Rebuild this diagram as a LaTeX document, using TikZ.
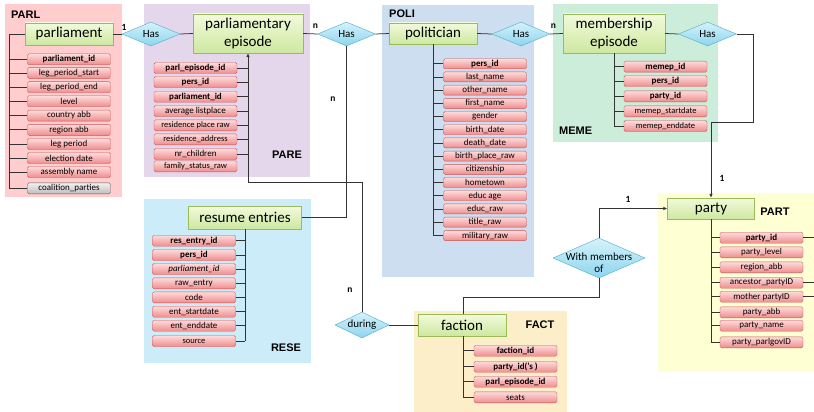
\documentclass[tikz,border=0pt]{standalone}
\usepackage{fontspec}
\setmainfont{Carlito}
\newfontfamily\lblfont{Liberation Sans}
\usetikzlibrary{shapes.geometric,arrows.meta}
\definecolor{entTop}{HTML}{F2FADC}
\definecolor{entBot}{HTML}{CDE8A0}
\definecolor{entLine}{HTML}{9BBB59}
\definecolor{attTop}{HTML}{FDDCDC}
\definecolor{attBot}{HTML}{F08C8C}
\definecolor{attLine}{HTML}{C85454}
\definecolor{relTop}{HTML}{D6F2FB}
\definecolor{relBot}{HTML}{8CD5EE}
\definecolor{relLine}{HTML}{4BACC6}
\definecolor{grTop}{HTML}{F2F2F2}
\definecolor{grBot}{HTML}{BDBDBD}
\definecolor{conn}{HTML}{333333}
\definecolor{bgPARL}{HTML}{FFCDCD}
\definecolor{bgPARE}{HTML}{E4D7EB}
\definecolor{bgPOLI}{HTML}{CCDEF0}
\definecolor{bgMEME}{HTML}{CCEDDA}
\definecolor{bgRESE}{HTML}{CCECF9}
\definecolor{bgFACT}{HTML}{FCEEC8}
\definecolor{bgPART}{HTML}{FFFFD4}
\begin{document}
\begin{tikzpicture}[x=1pt,y=-1pt,
  entity/.style={draw=entLine, top color=entTop, bottom color=entBot, inner sep=0pt,
    align=center, font=\fontsize{15}{18}\selectfont},
  attr/.style={draw=attLine, rounded corners=1.5pt, top color=attTop, bottom color=attBot,
    minimum width=83pt, minimum height=11pt, inner sep=0pt, font=\fontsize{9}{10}\selectfont},
  keyattr/.style={attr, font=\fontsize{9}{10}\selectfont\bfseries},
  grayattr/.style={attr, draw=black!65, top color=grTop, bottom color=grBot},
  rel/.style={diamond, aspect=1, draw=relLine, top color=relTop, bottom color=relBot,
    inner sep=0pt, minimum width=58pt, minimum height=24pt},
  relfont/.style={font=\fontsize{11}{12}\selectfont, inner sep=0pt},
  grp/.style={font=\lblfont\fontsize{11}{13}\selectfont\bfseries, inner sep=0pt},
  card/.style={font=\fontsize{9.5}{10}\selectfont\bfseries, inner sep=0pt},
  link/.style={draw=conn, line width=0.75pt},
  arr/.style={link, -{Latex[length=4pt,width=3.5pt]}}
]
\useasboundingbox (0,0) rectangle (814,412);
% background areas
\fill[bgPARL] (5,4) rectangle (122,197);
\fill[bgPARE] (144,4) rectangle (310,177);
\fill[bgPOLI] (382,5) rectangle (534,277);
\fill[bgMEME] (553,4) rectangle (718,142);
\fill[bgRESE] (144,199) rectangle (311,363);
\fill[bgFACT] (414,311) rectangle (567,412);
\fill[bgPART] (658,193) rectangle (814,372);
% group labels
\node[grp, anchor=west] (gPARL) at (11,15) {PARL};
\node[grp] (gPARE) at (287,155) {PARE};
\node[grp, anchor=west] (gPOLI) at (389,14) {POLI};
\node[grp, anchor=west] (gMEME) at (559,131) {MEME};
\node[grp] (gRESE) at (286,348) {RESE};
\node[grp] (gFACT) at (540,325) {FACT};
\node[grp] (gPART) at (775,212) {PART};
% entities
\node[entity, minimum width=88pt, minimum height=22pt] (parliament) at (69,34) {parliament};
\node[entity, minimum width=110pt, minimum height=39pt] (parlep) at (248,33.5) {parliamentary\\episode};
\node[entity, minimum width=88pt, minimum height=21pt] (politician) at (433,33.5) {politician};
\node[entity, minimum width=102pt, minimum height=39pt] (memep) at (614,33.5) {membership\\episode};
\node[entity, minimum width=113pt, minimum height=23pt] (resume) at (245,217.5) {resume entries};
\node[entity, minimum width=88pt, minimum height=22pt] (faction) at (462,325) {faction};
\node[entity, minimum width=87pt, minimum height=21pt] (party) at (711,208.5) {party};
% relationships
\node[rel, label={[relfont]center:Has}] (has1) at (151,34) {};
\node[rel, label={[relfont]center:Has}] (has2) at (346.5,34) {};
\node[rel, label={[relfont]center:Has}] (has3) at (521,34) {};
\node[rel, label={[relfont]center:Has}] (has4) at (707.5,34) {};
\node[rel, minimum width=54pt, minimum height=26pt, label={[relfont]center:during}] (during) at (362,325) {};
\node[rel, minimum width=92pt, minimum height=40pt, label={[relfont, align=center, yshift=-5pt]center:With members\\of}] (withmem) at (599,258) {};
% PARL attributes
\node[keyattr] (p1) at (69,59.3) {parliament\_id};
\node[attr] (p2) at (69,72.9) {leg\_period\_start};
\node[attr] (p3) at (69,87.2) {leg\_period\_end};
\node[attr] (p4) at (69,101.2) {level};
\node[attr] (p5) at (69,115.6) {country abb};
\node[attr] (p6) at (69,129.8) {region abb};
\node[attr] (p7) at (69,144) {leg period};
\node[attr] (p8) at (69,158) {election date};
\node[attr] (p9) at (69,172) {assembly name};
\node[grayattr] (p10) at (69,188.3) {coalition\_parties};
% PARE attributes
\node[keyattr] (e1) at (195.5,68) {parl\_episode\_id};
\node[keyattr] (e2) at (195.5,82) {pers\_id};
\node[keyattr] (e3) at (195.5,96.7) {parliament\_id};
\node[attr] (e4) at (195.5,111) {average listplace};
\node[attr, font=\fontsize{8.5}{10}\selectfont] (e5) at (195.5,125.3) {residence place raw};
\node[attr, font=\fontsize{8.5}{10}\selectfont] (e6) at (195.5,139.3) {residence\_address};
\node[attr] (e7) at (195.5,154) {nr\_children};
\node[attr, font=\fontsize{8.5}{10}\selectfont] (e8) at (195.5,166.3) {family\_status\_raw};
% POLI attributes
\node[keyattr, minimum height=10pt] (o1) at (485,63.8) {pers\_id};
\node[attr, minimum height=10pt] (o2) at (485,76.9) {last\_name};
\node[attr, minimum height=10pt] (o3) at (485,90.1) {other\_name};
\node[attr, minimum height=10pt] (o4) at (485,103.3) {first\_name};
\node[attr, minimum height=10pt] (o5) at (485,116.5) {gender};
\node[attr, minimum height=10pt] (o6) at (485,129.7) {birth\_date};
\node[attr, minimum height=10pt] (o7) at (485,142.9) {death\_date};
\node[attr, minimum height=10pt] (o8) at (485,156.1) {birth\_place\_raw};
\node[attr, minimum height=10pt] (o9) at (485,169.3) {citizenship};
\node[attr, minimum height=10pt] (o10) at (485,182.5) {hometown};
\node[attr, minimum height=10pt] (o11) at (485,195.7) {educ age};
\node[attr, minimum height=10pt] (o12) at (485,208.9) {educ\_raw};
\node[attr, minimum height=10pt] (o13) at (485,222.1) {title\_raw};
\node[attr, minimum height=10pt] (o14) at (485,235.6) {military\_raw};
% MEME attributes
\node[keyattr] (m1) at (665.5,66.7) {memep\_id};
\node[keyattr] (m2) at (665.5,81) {pers\_id};
\node[keyattr] (m3) at (665.5,96.3) {party\_id};
\node[attr, font=\fontsize{8.5}{10}\selectfont] (m4) at (665.5,111.3) {memep\_startdate};
\node[attr, font=\fontsize{8.5}{10}\selectfont] (m5) at (665.5,126) {memep\_enddate};
% RESE attributes
\node[keyattr] (r1) at (194,240.7) {res\_entry\_id};
\node[keyattr] (r2) at (194,255) {pers\_id};
\node[attr, font=\fontsize{9}{10}\selectfont\itshape] (r3) at (194,269) {parliament\_id};
\node[attr] (r4) at (194,283.3) {raw\_entry};
\node[attr] (r5) at (194,297.3) {code};
\node[attr] (r6) at (194,311.7) {ent\_startdate};
\node[attr] (r7) at (194,325.7) {ent\_enddate};
\node[attr, font=\fontsize{8.5}{10}\selectfont] (r8) at (194,341) {source};
% FACT attributes
\node[keyattr] (f1) at (515.5,350.7) {faction\_id};
\node[keyattr] (f2) at (515.5,366.7) {party\_id('s )};
\node[keyattr] (f3) at (515.5,381.7) {parl\_episode\_id};
\node[attr] (f4) at (515.5,397.3) {seats};
% PART attributes
\node[keyattr] (t1) at (761.5,237.7) {party\_id};
\node[attr] (t2) at (761.5,252.3) {party\_level};
\node[attr] (t3) at (761.5,267.3) {region\_abb};
\node[attr] (t4) at (761.5,282.7) {ancestor\_partyID};
\node[attr] (t5) at (761.5,296.7) {mother partyID};
\node[attr] (t6) at (761.5,312.3) {party\_abb};
\node[attr] (t7) at (761.5,325.7) {party\_name};
\node[attr] (t8) at (761.5,342.3) {party\_parlgovID};
% bus coordinates
\coordinate (pbus) at (9,188.3);
\coordinate (c1) at (753,122);
\coordinate (c3) at (362,182);
\coordinate (c4) at (463,297);
\coordinate (rEdge) at (814,0);
% attribute buses
\draw[link] (parliament.west) -| (pbus);
\foreach \a in {p1,p2,p3,p4,p5,p6,p7,p8,p9,p10} \draw[link] (\a.west) -- (\a.west -| pbus);
\foreach \a in {e1,e2,e3,e4,e5,e6,e7} \draw[link] (\a.east) -- (\a.east -| parlep.south);
\draw[link] (politician.south) -- (politician.south |- o14.west);
\foreach \a in {o1,o2,o3,o4,o5,o6,o7,o8,o9,o10,o11,o12,o13,o14} \draw[link] (\a.west) -- (\a.west -| politician.south);
\draw[link] (memep.south) -- (memep.south |- m5.west);
\foreach \a in {m1,m2,m3,m4,m5} \draw[link] (\a.west) -- (\a.west -| memep.south);
\draw[link] (resume.south) -- (resume.south |- r8.east);
\foreach \a in {r1,r2,r3,r4,r5,r6,r7,r8} \draw[link] (\a.east) -- (\a.east -| resume.south);
\draw[link] (faction.south -| c4) -- (c4 |- f4.west);
\foreach \a in {f1,f2,f3,f4} \draw[link] (\a.west) -- (\a.west -| c4);
\draw[link] (party.south) -- (party.south |- t8.west);
\foreach \a in {t1,t2,t3,t4,t5,t6,t7,t8} \draw[link] (\a.west) -- (\a.west -| party.south);
\foreach \a in {t1,t4,t5} \draw[link] (\a.east) -- (\a.east -| rEdge);
% relationship connectors
\draw[link] (parliament.east) -- (has1.west);
\draw[link] (has1.east) -- (parlep.west);
\draw[link] (parlep.east) -- (has2.west);
\draw[link] (has2.east) -- (politician.west);
\draw[link] (politician.east) -- (has3.west);
\draw[link] (has3.east) -- (memep.west);
\draw[link] (memep.east) -- (has4.west);
\draw[arr] (has4.east) -| (c1) -| (party.north);
\draw[link] (has2.south) |- (resume.east);
\draw[arr] (during.north) -- (c3) -| (parlep.south);
\draw[link] (during.east) -- (faction.west);
\draw[link] (faction.north -| c4) -- (c4) -| (withmem.south);
\draw[arr] (withmem.north) |- (party.west);
% cardinalities
\node[card] (k1) at (124,27) {1};
\node[card] (k2) at (315.5,26.5) {n};
\node[card] (k3) at (553.5,26.5) {n};
\node[card] (k4) at (333,99) {n};
\node[card] (k5) at (350,290) {n};
\node[card] (k6) at (722,178) {1};
\node[card] (k7) at (628,199) {1};
\end{tikzpicture}
\end{document}
